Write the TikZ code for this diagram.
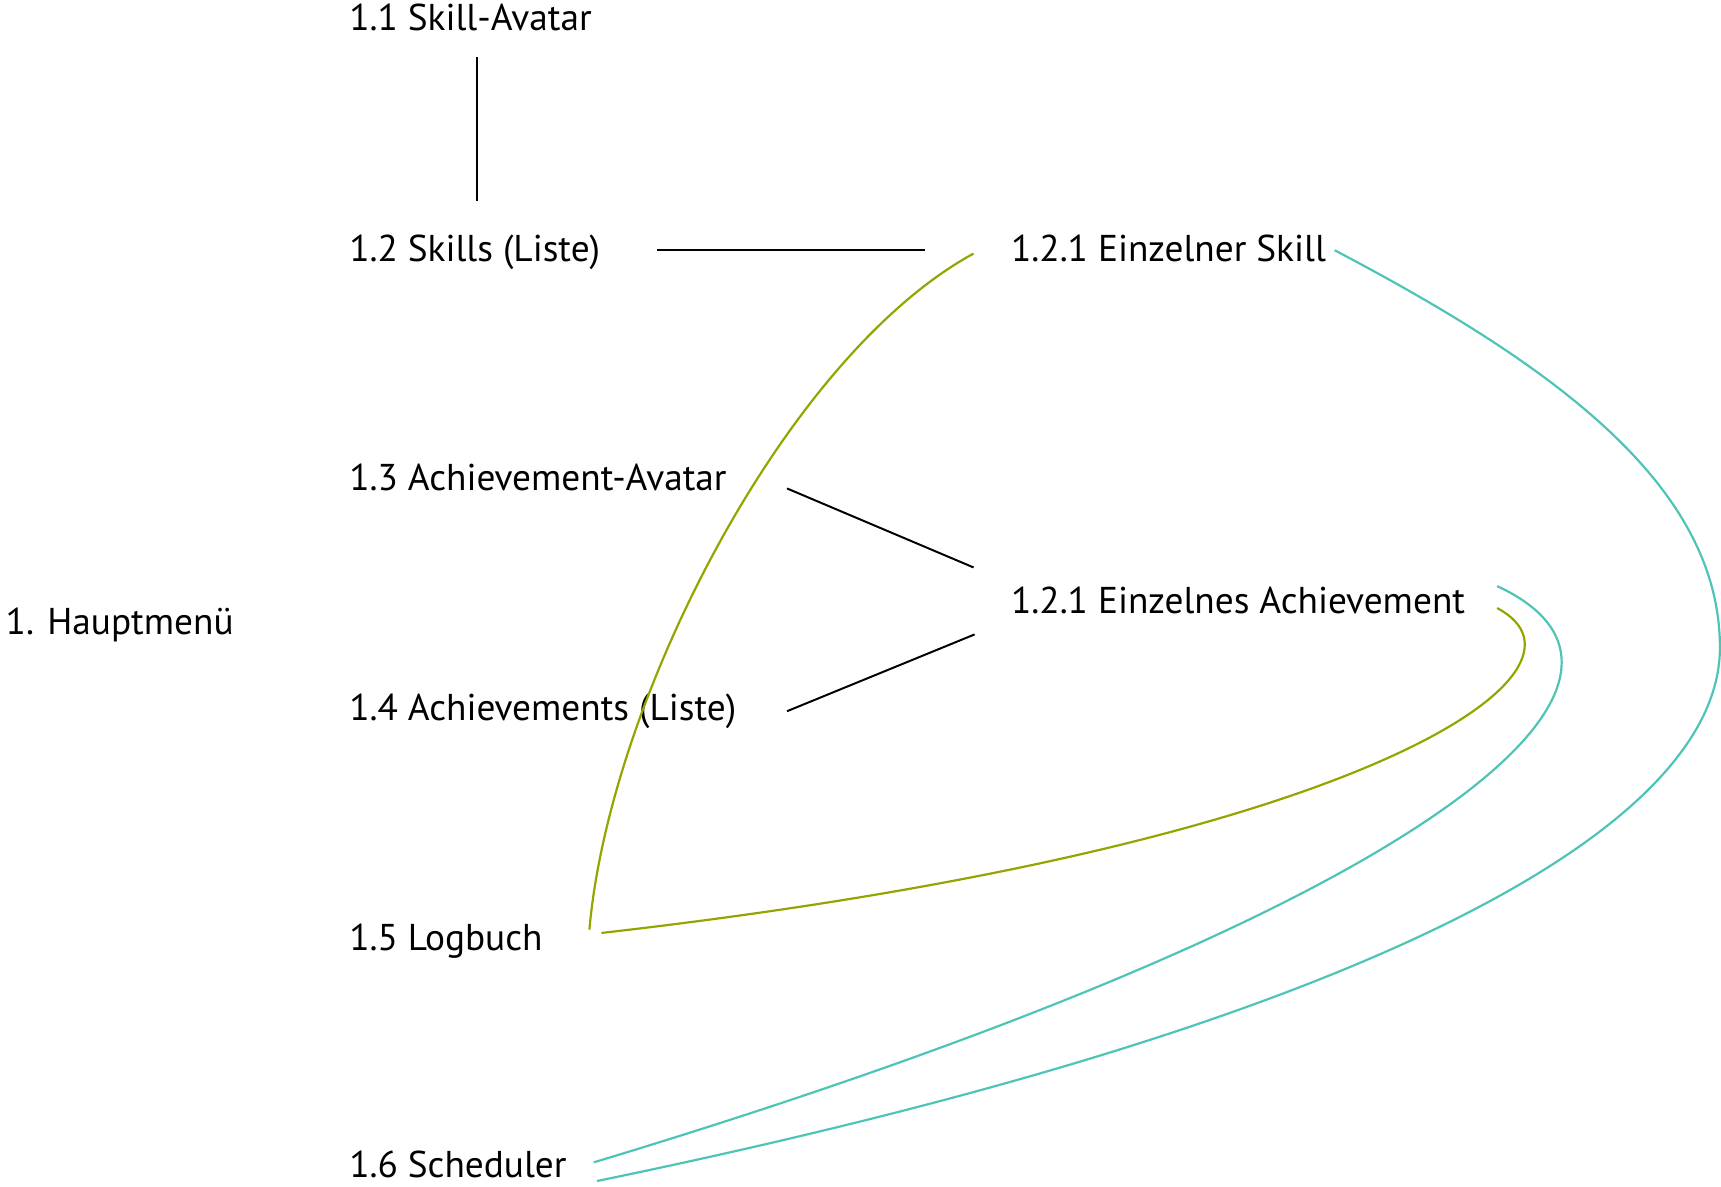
\documentclass[tikz,border=0pt]{standalone}
\usepackage{fontspec}
\setmainfont{PT Sans}
\begin{document}
\begin{tikzpicture}[x=1pt,y=-1pt,
  lbl/.style={anchor=base west,inner sep=0pt,text depth=0pt,font=\fontsize{34}{40}\selectfont},
  blk/.style={draw=black,line width=1.8pt},
  olive/.style={draw={rgb,255:red,148;green,165;blue,0},line width=2pt},
  teal/.style={draw={rgb,255:red,78;green,196;blue,182},line width=2pt}]
\useasboundingbox (0,0) rectangle (1568,1081);
\node[lbl] (n1) at (5,578) {1. Hauptmenü};
\node[lbl] (n11) at (318,28) {1.1 Skill-Avatar};
\node[lbl] (n12) at (318,238) {1.2 Skills (Liste)};
\node[lbl] (n13) at (318,447) {1.3 Achievement-Avatar};
\node[lbl] (n14) at (318,656) {1.4 Achievements (Liste)};
\node[lbl] (n15) at (318,866) {1.5 Logbuch};
\node[lbl] (n16) at (318,1073) {1.6 Scheduler};
\node[lbl] (n121) at (921,238) {1.2.1 Einzelner Skill};
\node[lbl] (n122) at (921,559) {1.2.1 Einzelnes Achievement};
% black connectors
\draw[blk] ([shift={(117,24)}]n11.base west) -- ([shift={(117,-55)}]n12.base west);
\draw[blk] ([shift={(281,-10)}]n12.base west) -- ([shift={(-78,-10)}]n121.base west);
\draw[blk] ([shift={(399,-2)}]n13.base west) -- ([shift={(-34,-42)}]n122.base west);
\draw[blk] ([shift={(399,-8)}]n14.base west) -- ([shift={(-33,19)}]n122.base west);
% olive connectors
\draw[olive] ([shift={(-34,-7)}]n121.base west) .. controls (715,325) and (555,640) .. ([shift={(219,-19)}]n15.base west);
\draw[olive] ([shift={(443,-5)}]n122.base west) .. controls (1470,610) and (1250,770) .. ([shift={(230,-16)}]n15.base west);
% teal connectors
\draw[teal] ([shift={(443,-25)}]n122.base west) .. controls (1550,620) and (1300,830) .. ([shift={(223,-14)}]n16.base west);
\draw[teal] ([shift={(295,-10)}]n121.base west) .. controls (1410,330) and (1567,440) .. (1567,590)
  .. controls (1567,740) and (1300,920) .. ([shift={(226,3)}]n16.base west);
\end{tikzpicture}
\end{document}
